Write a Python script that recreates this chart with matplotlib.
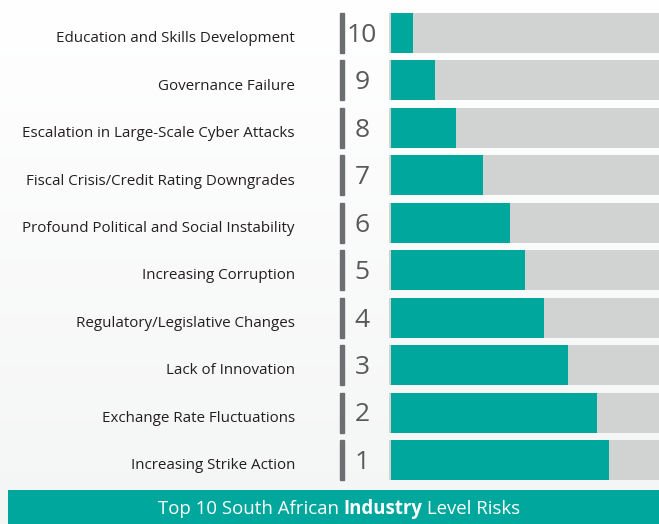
import matplotlib
matplotlib.use("Agg")
import matplotlib.pyplot as plt
import numpy as np
from matplotlib.transforms import blended_transform_factory
from matplotlib.patches import Rectangle

# ---- data ----
risks = [
    "Education and Skills Development",
    "Governance Failure",
    "Escalation in Large-Scale Cyber Attacks",
    "Fiscal Crisis/Credit Rating Downgrades",
    "Profound Political and Social Instability",
    "Increasing Corruption",
    "Regulatory/Legislative Changes",
    "Lack of Innovation",
    "Exchange Rate Fluctuations",
    "Increasing Strike Action",
]
ranks = [10, 9, 8, 7, 6, 5, 4, 3, 2, 1]
scores = [8.2, 16.4, 24.2, 34.2, 44.2, 49.8, 56.9, 65.8, 76.6, 80.7]
score_max = 100
title_parts = ["Top 10 South African ", "Industry", " Level Risks"]

TEAL = "#00A79D"
GREY = "#D1D3D2"
MARK = "#6D6E71"
NUM = "#58595B"
TXT = "#231F20"

W, H = 659, 524
fig = plt.figure(figsize=(W / 100, H / 100), dpi=100)

# background gradient
bg = fig.add_axes([0, 0, 1, 1], zorder=-10)
grad = np.linspace(1.0, 0.0, 256).reshape(-1, 1)
top = np.array([1.0, 1.0, 1.0])
bot = np.array([0xF4, 0xF5, 0xF5]) / 255
img = grad[..., None] * top + (1 - grad[..., None]) * bot
bg.imshow(img, aspect="auto", extent=[0, 1, 0, 1], origin="upper")
bg.set_axis_off()

# bars axes
y_top_px, y_bot_px = 9.3, 483.7
x0_px = 389
ax = fig.add_axes([x0_px / W, (H - y_bot_px) / H, (W - x0_px) / W, (y_bot_px - y_top_px) / H])
n = len(risks)
ypos = np.arange(n)[::-1]  # first risk at top
bh = 0.843
ax.barh(ypos, [score_max] * n, height=bh, color=GREY, edgecolor="none", left=0)
ax.barh(ypos, scores, height=bh, color=TEAL, edgecolor="none", left=0.6)
ax.set_xlim(0, score_max)
ax.set_ylim(-0.5, n - 0.5)
ax.set_axis_off()

tr = blended_transform_factory(fig.transFigure, ax.transData)
for y, lab, r in zip(ypos, risks, ranks):
    ax.text(295 / W, y - 0.12, lab, transform=tr, ha="right", va="center",
            fontsize=10.9, color=TXT, family="Open Sans")
    ax.text(362 / W, y - 0.05, str(r), transform=tr, ha="center", va="center",
            fontsize=19, color=NUM, family="Open Sans")
    ax.add_patch(Rectangle((340 / W, y - bh / 2), 4 / W, bh, transform=tr,
                           color=MARK, clip_on=False))

# banner
ban = fig.add_axes([8 / W, 0, (W - 8) / W, 34 / H])
ban.set_xlim(0, 1)
ban.set_ylim(0, 1)
ban.add_patch(Rectangle((0, 0), 1, 1, color=TEAL))
ban.set_axis_off()

# title with bold part
fs = 13.4
renderer = fig.canvas.get_renderer()
texts = []
for i, part in enumerate(title_parts):
    t = fig.text(0, 15 / H, part, fontsize=fs, color="white", family="Open Sans",
                 fontweight="bold" if i == 1 else "normal", va="center", ha="left")
    texts.append(t)
widths = [t.get_window_extent(renderer).width for t in texts]
total = sum(widths)
cx = (157 + 521) / 2
start = cx - total / 2
for t, w in zip(texts, widths):
    t.set_x(start / W)
    start += w

fig.savefig("out.png", dpi=100)
